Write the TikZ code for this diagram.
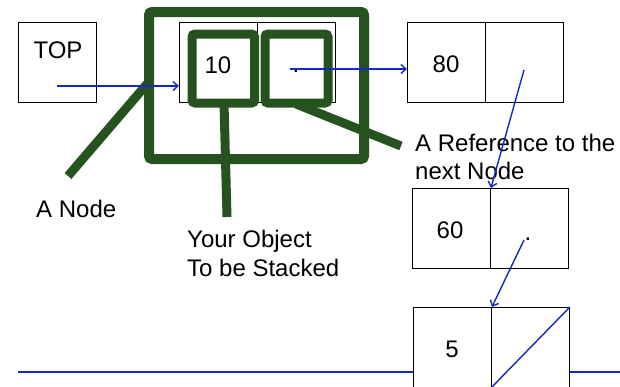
\documentclass[tikz,border=0pt]{standalone}
\usepackage{fontspec}
\setmainfont{Liberation Sans}
\usetikzlibrary{arrows.meta}
\definecolor{linkblue}{RGB}{20,40,200}
\definecolor{hlgreen}{RGB}{38,82,32}
\begin{document}
\begin{tikzpicture}[x=1pt,y=-1pt,
  cell/.style={draw=black, line width=0.9pt, fill=white, minimum width=78pt, minimum height=80pt, inner sep=0pt, anchor=north west},
  lbl/.style={font=\fontsize{24}{29}\selectfont, inner sep=0pt},
  link/.style={draw=linkblue, line width=1.4pt, -{Straight Barb[length=5pt,width=9pt]}},
  plainlink/.style={draw=linkblue, line width=1.4pt},
  hl/.style={draw=hlgreen, line width=10pt, rounded corners=3pt},
  hlbox/.style={draw=hlgreen, line width=9pt, rounded corners=3pt},
  hlline/.style={draw=hlgreen, line width=9pt}]
\useasboundingbox (0,0) rectangle (620,386);
% baseline
\coordinate (bl) at (18,372);
\coordinate (br) at (620,372);
\draw[plainlink] (bl) -- (br);
% cells
\node[cell] (top) at (18,22) {};
\node[cell] (n1a) at (179,22) {};
\node[cell] (n1b) at (257,22) {};
\node[cell] (n2a) at (407,22) {};
\node[cell] (n2b) at (485,22) {};
\node[cell] (n3a) at (412,188) {};
\node[cell] (n3b) at (490,188) {};
\node[cell] (n4a) at (413,307) {};
\node[cell] (n4b) at (491,307) {};
% texts in cells
\node[lbl, anchor=base] (ttop) at (58,58) {TOP};
\node[lbl, anchor=base] (t10) at (218,73) {10};
\node[lbl, anchor=base] (t80) at (446,72) {80};
\node[lbl, anchor=base] (t60) at (450,238) {60};
\node[lbl, anchor=base] (t5) at (452,357) {5};
\node[lbl, anchor=base] (d1) at (296,72) {.};
\node[lbl, anchor=base] (d3) at (528,240) {.};
% labels
\node[lbl, anchor=base west] (lnode) at (36,217) {A Node};
\node[lbl, anchor=base west] (lobj1) at (187,247) {Your Object};
\node[lbl, anchor=base west] (lobj2) at (187,276) {To be Stacked};
\node[lbl, anchor=base west] (lref1) at (415,151) {A Reference to the};
\node[lbl, anchor=base west] (lref2) at (415,179) {next Node};
% green highlights
\draw[hl] (149,12) rectangle (364,159);
\draw[hlbox] (192,34) rectangle (254.5,103);
\draw[hlbox] (265,34) rectangle (328,103);
\draw[hlline] (68,176) -- (147,84);
\draw[hlline] (224,103) -- (227,217);
\draw[hlline] (296,104) -- (401,146);
% links
\coordinate (s1) at (57,86);
\draw[link] (s1) -- (n1a.west |- s1);
\coordinate (s2) at (290,69);
\draw[link] (s2) -- (n2a.west |- s2);
\coordinate (s3) at (524,70);
\draw[link] (s3) -- (n3a.north east);
\coordinate (s4) at (524,240);
\draw[link] (s4) -- (n4a.north east);
\draw[plainlink] (n4b.south west) -- (n4b.north east);
\end{tikzpicture}
\end{document}
